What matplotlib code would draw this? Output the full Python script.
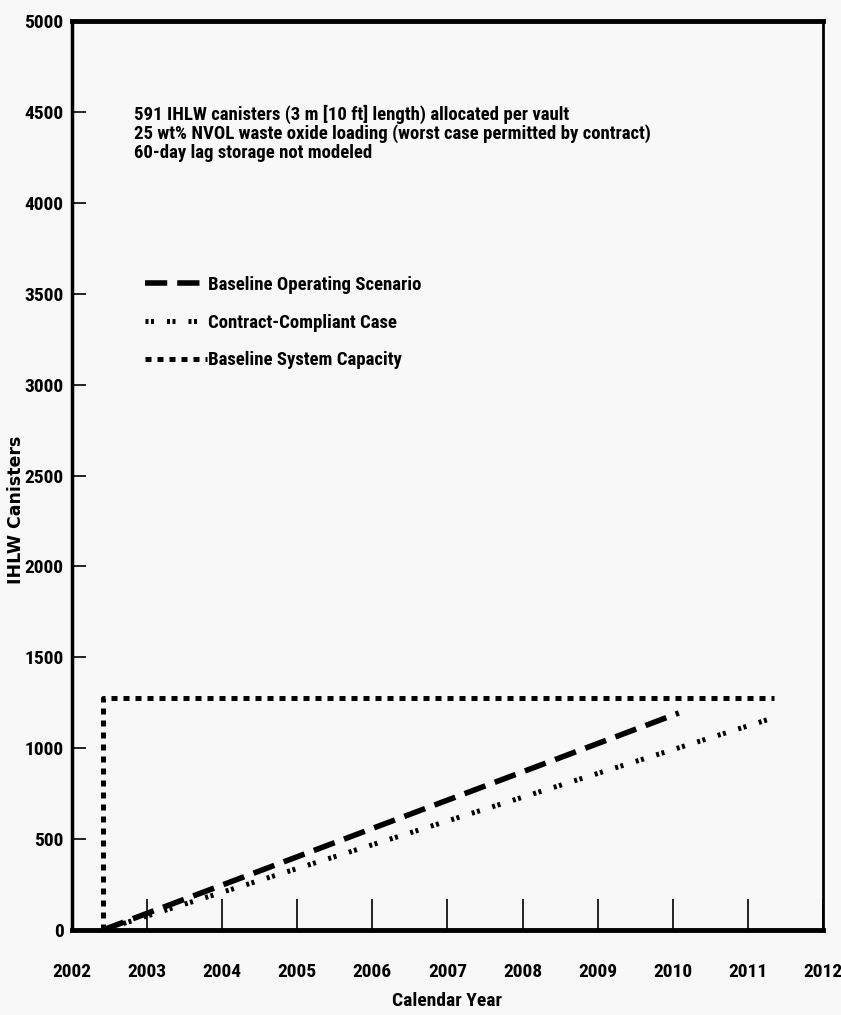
import matplotlib.pyplot as plt
from matplotlib import font_manager

# canister production and storage capacity over time
start_year = 2002.41
capacity_years = [start_year, start_year, 2011.35]
capacity_canisters = [0, 1278, 1278]

baseline_years = [start_year, 2010.08]
baseline_canisters = [0, 1194]

compliant_years = [start_year, 2011.33]
compliant_canisters = [0, 1166]

notes = ['591 IHLW canisters (3 m [10 ft] length) allocated per vault',
         '25 wt% NVOL waste oxide loading (worst case permitted by contract)',
         '60-day lag storage not modeled']

# prefer a narrow face if one is around
names = sorted({f.name for f in font_manager.fontManager.ttflist})
narrow_name = None
for cand in ['Liberation Sans Narrow', 'DejaVu Sans Condensed', 'Roboto Condensed',
             'Open Sans Condensed']:
    if cand in names:
        narrow_name = cand
        break
if narrow_name is None:
    for n in names:
        if 'Narrow' in n or 'Condensed' in n:
            narrow_name = n
            break
if narrow_name is None:
    narrow_name = 'DejaVu Sans'

plt.rcParams['font.family'] = [narrow_name, 'DejaVu Sans']
plt.rcParams['font.weight'] = 'bold'
plt.rcParams['font.stretch'] = 'condensed'

bg = '#f8f8f8'
fig = plt.figure(figsize=(8.41, 10.15), dpi=100, facecolor=bg)
ax = fig.add_axes([0.0856, 0.0837, 0.893, 0.8956])
ax.set_facecolor(bg)

ax.plot(baseline_years, baseline_canisters, color='k', lw=4.0,
        dashes=(4, 1.8), label='Baseline Operating Scenario')
ax.plot(compliant_years, compliant_canisters, color='k', lw=3.6,
        dashes=(0.6, 0.5, 0.6, 2.6), label='Contract-Compliant Case')
ax.plot(capacity_years, capacity_canisters, color='k', lw=3.6,
        dashes=(1.2, 1.2), label='Baseline System Capacity')

ax.set_xlim(2002, 2012)
ax.set_ylim(0, 5000)
ax.set_xticks(range(2002, 2013))
ax.set_yticks(range(0, 5001, 500))

ax.tick_params(axis='x', direction='in', length=22, width=1.2, pad=24,
               labelsize=14)
ax.tick_params(axis='y', direction='in', length=10, width=1.2, pad=6,
               labelsize=14)
for lbl in ax.get_xticklabels() + ax.get_yticklabels():
    lbl.set_fontweight('bold')

for side, lw in [('left', 2.5), ('bottom', 3.5), ('top', 3.5), ('right', 2.0)]:
    ax.spines[side].set_linewidth(lw)

ax.set_xlabel('Calendar Year', fontsize=14, fontweight='bold')
ax.xaxis.set_label_coords(0.5, -0.068)
ax.set_ylabel('IHLW Canisters', fontsize=12.5, fontweight='bold',
              family=['DejaVu Sans'], fontstretch='normal')
ax.yaxis.set_label_coords(-0.062, 0.462)

ax.text(0.083, 0.908, '\n'.join(notes), transform=ax.transAxes,
        fontsize=13.5, fontweight='bold', va='top', ha='left', linespacing=1.05)

leg = ax.legend(loc='upper left', bbox_to_anchor=(0.085, 0.730), frameon=False,
                fontsize=13.5, handlelength=3.3, handletextpad=0.05,
                labelspacing=1.05, borderpad=0)
for t in leg.get_texts():
    t.set_fontweight('bold')

fig.savefig('out.png', dpi=100, facecolor=bg)
